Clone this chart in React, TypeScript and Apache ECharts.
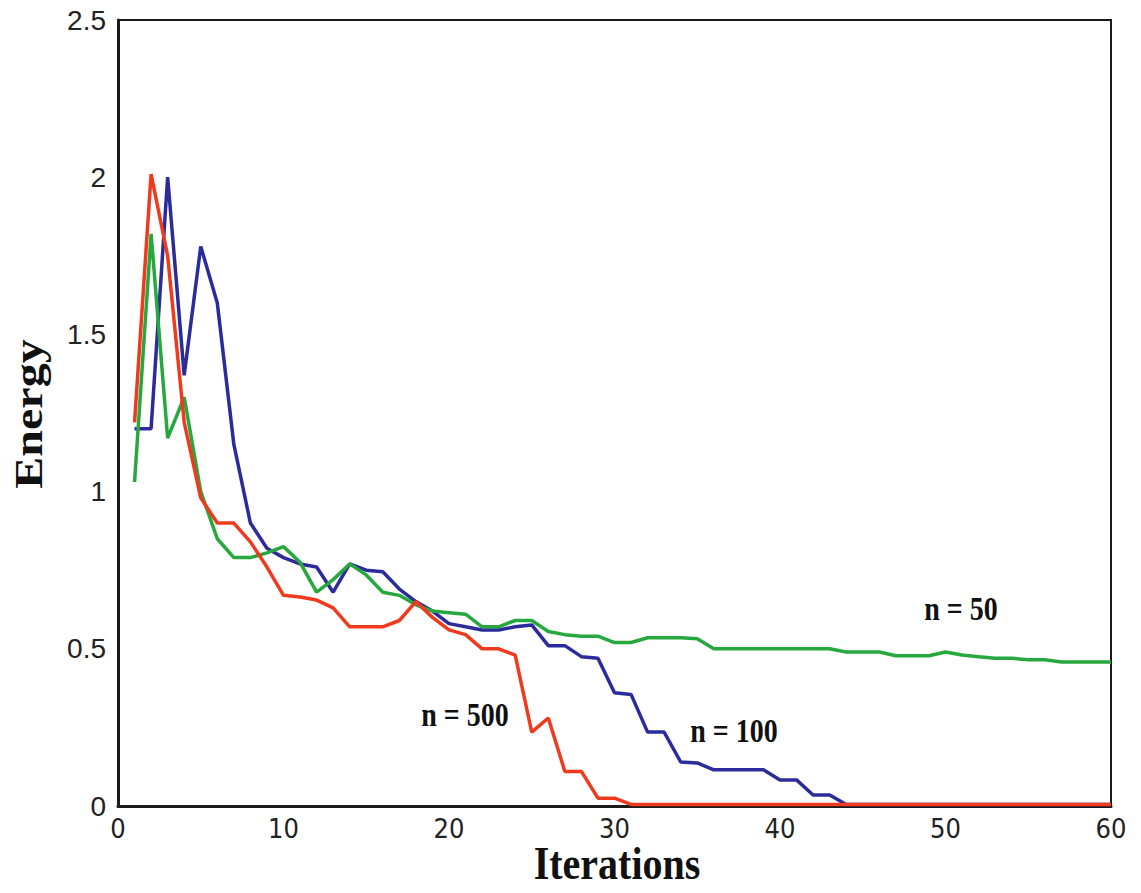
import React, { useEffect, useRef } from "react";
import * as echarts from "echarts";

const iterations: number[] = Array.from({ length: 60 }, (_, i) => i + 1);

const n500: number[] = [
  1.22, 2.01, 1.75, 1.22, 0.98, 0.9, 0.9, 0.84, 0.76, 0.67,
  0.665, 0.655, 0.63, 0.57, 0.57, 0.57, 0.59, 0.65, 0.6, 0.56,
  0.545, 0.5, 0.5, 0.48, 0.235, 0.28, 0.11, 0.11, 0.025, 0.025,
  0.005, 0.005, 0.005, 0.005, 0.005, 0.005, 0.005, 0.005, 0.005, 0.005,
  0.005, 0.005, 0.005, 0.005, 0.005, 0.005, 0.005, 0.005, 0.005, 0.005,
  0.005, 0.005, 0.005, 0.005, 0.005, 0.005, 0.005, 0.005, 0.005, 0.005,
];

const n100: number[] = [
  1.2, 1.2, 2.0, 1.37, 1.78, 1.6, 1.15, 0.9, 0.82, 0.79,
  0.77, 0.76, 0.68, 0.77, 0.75, 0.745, 0.69, 0.65, 0.62, 0.58,
  0.57, 0.56, 0.56, 0.57, 0.576, 0.51, 0.51, 0.475, 0.47, 0.36,
  0.355, 0.235, 0.235, 0.14, 0.137, 0.115, 0.115, 0.115, 0.115, 0.083,
  0.083, 0.035, 0.035, 0.005, 0.005, 0.005, 0.005, 0.005, 0.005, 0.005,
  0.005, 0.005, 0.005, 0.005, 0.005, 0.005, 0.005, 0.005, 0.005, 0.005,
];

const n50: number[] = [
  1.03, 1.82, 1.17, 1.3, 1.0, 0.85, 0.79, 0.79, 0.805, 0.825,
  0.775, 0.68, 0.72, 0.77, 0.735, 0.68, 0.67, 0.64, 0.62, 0.615,
  0.61, 0.57, 0.57, 0.59, 0.59, 0.555, 0.545, 0.54, 0.54, 0.52,
  0.52, 0.535, 0.535, 0.535, 0.532, 0.5, 0.5, 0.5, 0.5, 0.5,
  0.5, 0.5, 0.5, 0.49, 0.49, 0.49, 0.478, 0.478, 0.478, 0.49,
  0.48, 0.475, 0.47, 0.47, 0.465, 0.465, 0.458, 0.458, 0.458, 0.458,
];

const seriesNames: string[] = ["n = 100", "n = 50", "n = 500"];
const seriesColors: string[] = ["#2b2b9c", "#27a83f", "#f03a1e"];

const xTicks = { min: 0, max: 60, interval: 10 };
const yTicks = { min: 0, max: 2.5, interval: 0.5 };

export default function App() {
  const ref = useRef<HTMLDivElement>(null);

  useEffect(() => {
    if (!ref.current) return;
    const chart = echarts.init(ref.current, undefined, { renderer: "svg" });
    const datasets = [n100, n50, n500];
    const serif = "'Liberation Serif', 'Times New Roman', serif";
    const sans = "'Liberation Sans', Arial, sans-serif";
    const narrow = "'Liberation Sans Narrow', 'DejaVu Sans Condensed', 'Liberation Sans', sans-serif";

    chart.setOption({
      animation: false,
      backgroundColor: "#ffffff",
      grid: {
        left: 118,
        right: 30,
        top: 20,
        bottom: 87,
        show: true,
        borderColor: "#1a1a1a",
        borderWidth: 2,
      },
      xAxis: {
        type: "value",
        min: xTicks.min,
        max: xTicks.max,
        interval: xTicks.interval,
        axisLine: { show: true, lineStyle: { color: "#1a1a1a", width: 3 } },
        axisTick: { show: false },
        splitLine: { show: false },
        axisLabel: {
          color: "#222",
          fontSize: 27,
          fontFamily: narrow,
          margin: 9,
        },
      },
      yAxis: {
        type: "value",
        min: yTicks.min,
        max: yTicks.max,
        interval: yTicks.interval,
        axisLine: { show: true, lineStyle: { color: "#1a1a1a", width: 3 } },
        axisTick: { show: false },
        splitLine: { show: false },
        axisLabel: {
          color: "#222",
          fontSize: 28,
          fontFamily: sans,
          margin: 12,
        },
      },
      series: datasets.map((d, i) => ({
        name: seriesNames[i],
        type: "line",
        data: iterations.map((it, j) => [it, d[j]]),
        showSymbol: false,
        symbol: "none",
        lineStyle: { color: seriesColors[i], width: 3.5 },
        itemStyle: { color: seriesColors[i] },
        z: 2 + i,
      })),
      graphic: [
        {
          type: "text",
          x: 617,
          y: 864,
          scaleY: 1.15,
          style: {
            text: "Iterations",
            fontSize: 40,
            lineHeight: 40,
            fontWeight: "bold",
            fontFamily: serif,
            fill: "#111",
            align: "center",
            verticalAlign: "middle",
          },
        },
        {
          type: "text",
          x: 29,
          y: 414,
          rotation: Math.PI / 2,
          scaleX: 1.2,
          style: {
            text: "Energy",
            fontSize: 40,
            fontWeight: "bold",
            fontFamily: serif,
            fill: "#111",
            align: "center",
            verticalAlign: "middle",
          },
        },
        {
          type: "text",
          x: 465,
          y: 715,
          scaleY: 1.2,
          style: {
            text: "n = 500",
            fontSize: 28,
            fontWeight: "bold",
            fontFamily: serif,
            fill: "#111",
            align: "center",
            verticalAlign: "middle",
          },
        },
        {
          type: "text",
          x: 734,
          y: 731,
          scaleY: 1.2,
          style: {
            text: "n = 100",
            fontSize: 28,
            fontWeight: "bold",
            fontFamily: serif,
            fill: "#111",
            align: "center",
            verticalAlign: "middle",
          },
        },
        {
          type: "text",
          x: 961,
          y: 609,
          scaleY: 1.2,
          style: {
            text: "n = 50",
            fontSize: 28,
            fontWeight: "bold",
            fontFamily: serif,
            fill: "#111",
            align: "center",
            verticalAlign: "middle",
          },
        },
      ],
    });

    return () => chart.dispose();
  }, []);

  return (
    <div
      ref={ref}
      style={{ position: "absolute", left: 0, top: 0, width: 1141, height: 893 }}
    />
  );
}
